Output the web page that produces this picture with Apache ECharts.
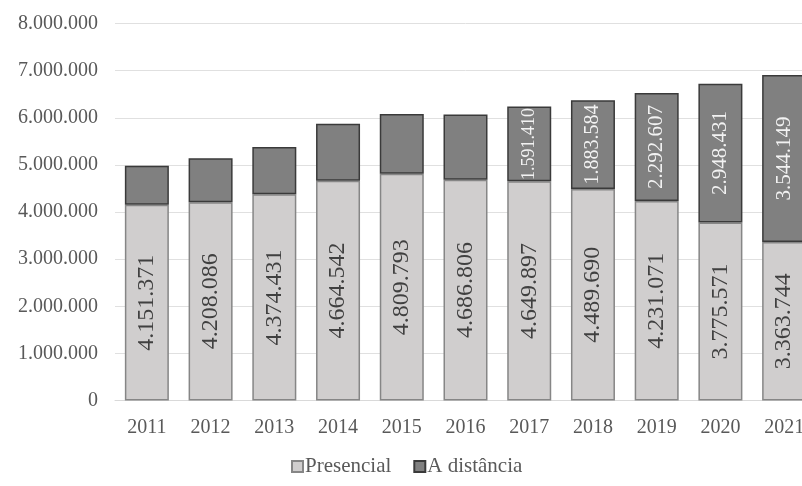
<!DOCTYPE html>
<html><head><meta charset="utf-8">
<script src="https://cdn.jsdelivr.net/npm/echarts@6/dist/echarts.min.js"></script>
<style>html,body{margin:0;padding:0;background:#fff;overflow:hidden}#c{width:816px;height:486px}</style>
</head><body><div id="c"></div>
<script>
const categories = ['2011','2012','2013','2014','2015','2016','2017','2018','2019','2020','2021'];
const presencial = [4151371,4208086,4374431,4664542,4809793,4686806,4649897,4489690,4231071,3775571,3363744];
const distancia = [830000,930000,1005000,1210000,1270000,1380000,1591410,1883584,2292607,2948431,3544149];
const distanciaLabelled = [false,false,false,false,false,false,true,true,true,true,true];
const yTicks = [0,1000000,2000000,3000000,4000000,5000000,6000000,7000000,8000000];

const fmt = v => String(Math.round(v)).replace(/\B(?=(\d{3})+(?!\d))/g, '.');
const serif = '"Liberation Serif","Times New Roman",serif';
const chart = echarts.init(document.getElementById('c'));
chart.setOption({
  animation: false,
  textStyle: { fontFamily: serif },
  grid: { left: 115, right: 0, top: 23.5, bottom: 85.5, containLabel: false },
  legend: {
    top: 451, left: 286, icon: 'rect', itemWidth: 11, itemHeight: 11, itemGap: 22,
    textStyle: { fontFamily: serif, fontSize: 21, color: '#595959', padding: [0,0,0,-3] },
    data: ['Presencial','A distância']
  },
  xAxis: {
    type: 'category', data: categories,
    axisLine: { lineStyle: { color: '#d9d9d9', width: 1 } },
    axisTick: { show: false },
    axisLabel: { fontFamily: serif, fontSize: 20, color: '#595959', margin: 17 }
  },
  yAxis: {
    type: 'value', min: yTicks[0], max: yTicks[yTicks.length-1], interval: 1000000,
    axisLine: { show: false }, axisTick: { show: false },
    splitLine: { lineStyle: { color: '#e0e0e0', width: 1 } },
    axisLabel: { fontFamily: serif, fontSize: 20, color: '#595959', margin: 17, formatter: v => fmt(v) }
  },
  series: [
    {
      name: 'Presencial', type: 'bar', stack: 't', barWidth: 44,
      data: presencial,
      itemStyle: { color: '#d0cece', borderColor: '#868686', borderWidth: 1.5 },
      label: { show: true, position: 'inside', rotate: 90, fontFamily: serif, fontSize: 24,
               color: '#404040', formatter: p => fmt(p.value) }
    },
    {
      name: 'A distância', type: 'bar', stack: 't', barWidth: 44,
      data: distancia.map((v, i) => ({
        value: v,
        label: { show: distanciaLabelled[i], fontSize: i === 6 ? 18 : (i === 7 ? 20 : 21) }
      })),
      itemStyle: { color: '#808080', borderColor: '#3a3a3a', borderWidth: 1.5 },
      label: { position: 'inside', rotate: 90, fontFamily: serif, fontSize: 21,
               color: '#f2f2f2', formatter: p => fmt(p.value) }
    }
  ]
});
</script></body></html>
